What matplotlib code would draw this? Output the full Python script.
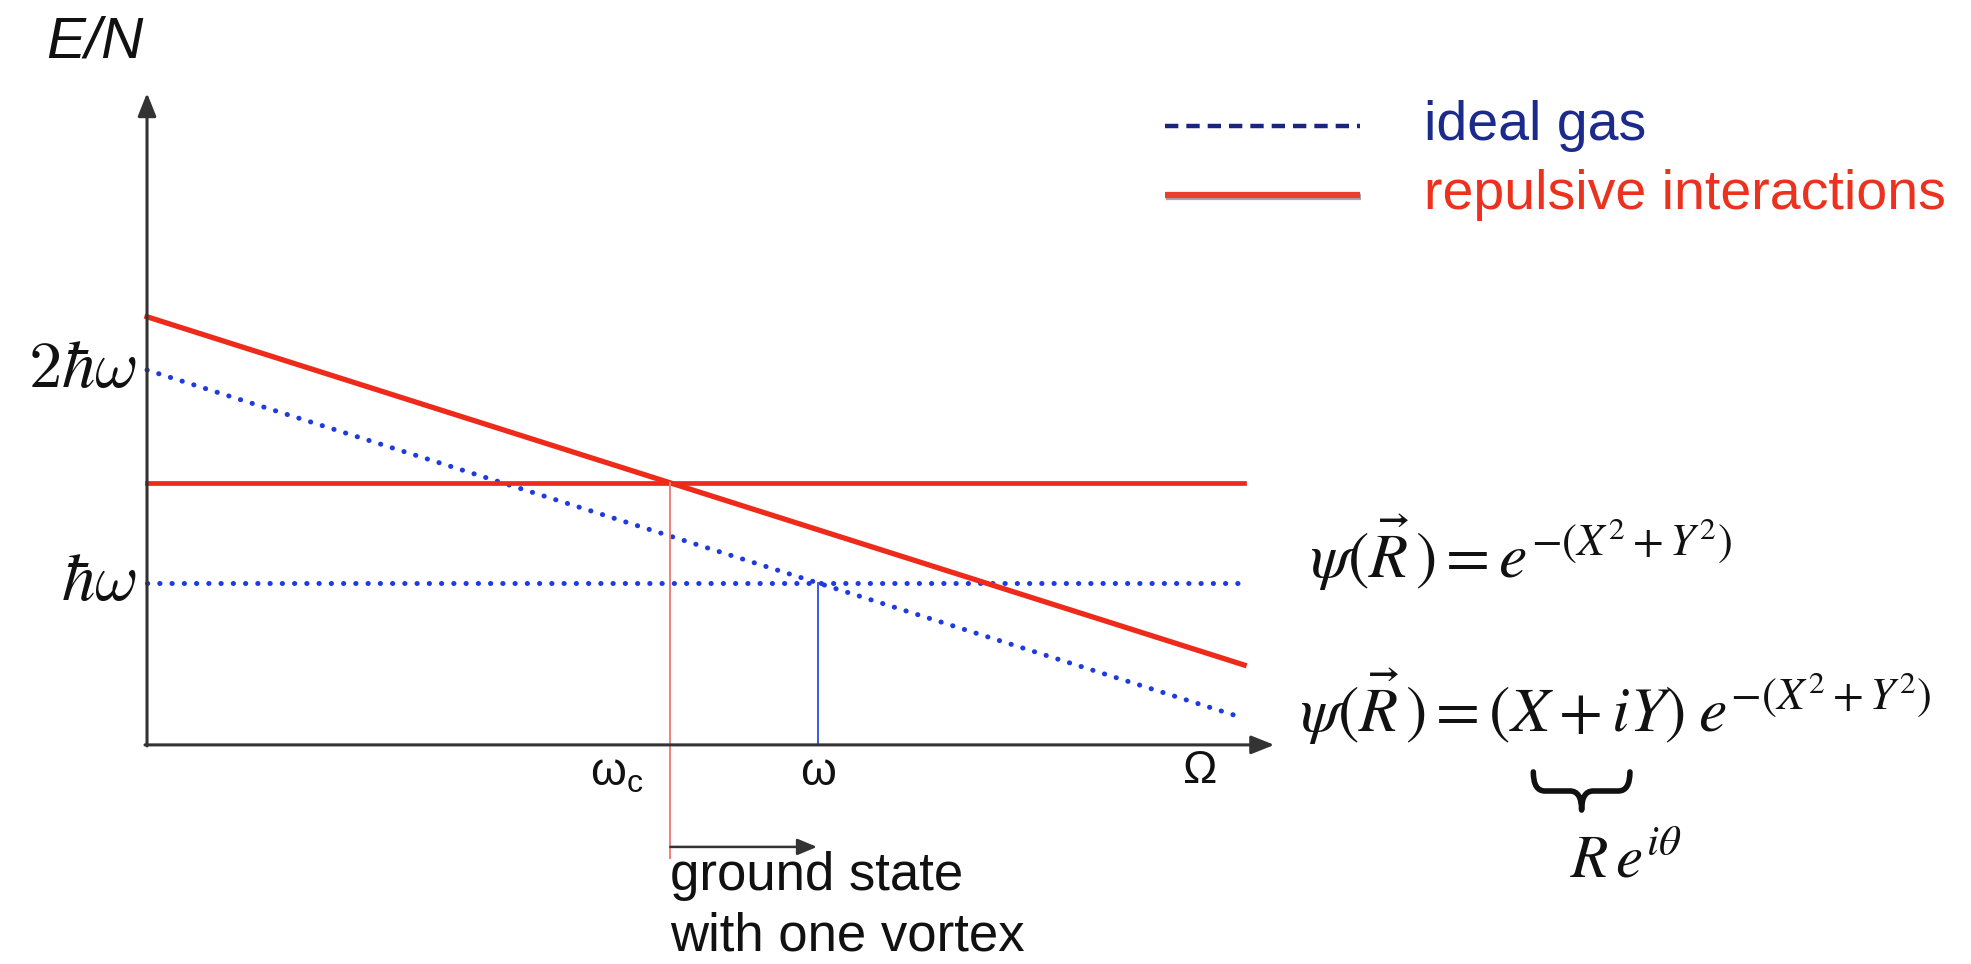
import numpy as np
import matplotlib
matplotlib.use("Agg")
import matplotlib.pyplot as plt
from matplotlib.path import Path
from matplotlib.patches import PathPatch
import matplotlib.patheffects as pe

plt.rcParams['font.family'] = ['Liberation Sans', 'DejaVu Sans']

# rotation frequency Omega (in units of the trap frequency omega)
omega = [0.0, 1.635]
# energy per particle E/N (in units of hbar*omega)
ideal_ground = [1.0, 1.0]
ideal_vortex = [2.0, 0.365]
repulsive_ground = [1.47, 1.47]
repulsive_vortex = [2.25, 0.615]

y_ticks = [2.0, 1.0]
y_tick_labels = [r'$2\hbar\omega$', r'$\hbar\omega$']

# crossing points
omega_trap = np.interp(ideal_ground[0], ideal_vortex[::-1], omega[::-1])
omega_c = np.interp(repulsive_ground[0], repulsive_vortex[::-1], omega[::-1])

axis_y = 0.24
axis_top = 3.30
axis_right = 1.68

red = '#ee2a1a'
blue = '#1f3be0'
dark = '#333333'

fig = plt.figure(figsize=(19.71, 9.64), dpi=100)
ax = fig.add_axes([0, 0, 1, 1])
ax.set_xlim(-0.2191, 2.7183)
ax.set_ylim(-0.7887, 3.7371)
ax.axis('off')

# axes with arrow heads
arrow = dict(arrowstyle='-|>,head_length=0.7,head_width=0.28', lw=2.2, color=dark,
             shrinkA=0, shrinkB=0, mutation_scale=20)
ax.annotate('', xy=(0, axis_top), xytext=(0, axis_y - 0.005), arrowprops=arrow)
ax.annotate('', xy=(axis_right, axis_y), xytext=(-0.003, axis_y), arrowprops=arrow)

# energy levels
dots = (0, (0.05, 2.4))
ax.plot(omega, ideal_ground, color=blue, lw=3.6, ls=dots, dash_capstyle='round')
ax.plot(omega, ideal_vortex, color=blue, lw=3.6, ls=dots, dash_capstyle='round')
ax.plot(omega, repulsive_ground, color=red, lw=3.4)
ax.plot(omega, repulsive_vortex, color=red, lw=3.8)

# vertical markers
ax.plot([omega_trap, omega_trap], [ideal_ground[0], axis_y], color='#3a5ae8', lw=1.4)
ax.plot([omega_c, omega_c], [repulsive_ground[0], -0.29], color='#f08078', lw=1.4)

# ground state arrow
ax.annotate('', xy=(0.9985, -0.239), xytext=(omega_c, -0.239),
            arrowprops=dict(arrowstyle='-|>,head_length=0.6,head_width=0.25', lw=1.8,
                            color=dark, shrinkA=0, shrinkB=0, mutation_scale=20))
ax.text(omega_c, -0.441, 'ground state', fontsize=38, color='#111111', va='baseline')
ax.text(omega_c, -0.723, 'with one vortex', fontsize=38, color='#111111', va='baseline')

# axis labels
ax.text(-0.1505, 3.465, 'E/N', fontsize=42, style='italic', color='#111111', va='baseline')
for yt, lab in zip(y_ticks, y_tick_labels):
    ax.text(-0.0149, yt, lab, fontsize=48, math_fontfamily='cm', ha='right', va='center',
            color='#111111')
ax.text(omega_c - 0.08, 0.108, r'ω$_\mathregular{c}$', fontsize=33, ha='center', va='center',
        color='#111111')
ax.text(omega_trap, 0.108, 'ω', fontsize=33, ha='center', va='center', color='#111111')
ax.text(1.569, 0.118, 'Ω', fontsize=33, ha='center', va='center', color='#111111')

# legend
ax.plot([1.517, 1.808], [3.146, 3.146], color='#1a2580', lw=3.2, ls=(0, (3, 1.8)))
ax.text(1.903, 3.080, 'ideal gas', fontsize=40, color='#1c2a8c', va='baseline')
ax.plot([1.517, 1.808], [2.822, 2.822], color='#e8402a', lw=4.5, solid_capstyle='butt',
        path_effects=[pe.SimpleLineShadow(offset=(0.5, -1.5), alpha=0.35), pe.Normal()])
ax.text(1.903, 2.756, 'repulsive interactions', fontsize=40, color='#ea321e', va='baseline')

# wave functions
ax.text(1.733, 1.023, r'$\psi(\vec{R}\,) = e^{-(X^2+Y^2)}$', fontsize=46,
        math_fontfamily='stix', va='baseline', color='#111111')
ax.text(1.718, 0.300, r'$\psi(\vec{R}\,) = (X + iY)\;e^{-(X^2+Y^2)}$',
        fontsize=46, math_fontfamily='stix', va='baseline', color='#111111')
ax.text(2.121, -0.380, r'$R\,e^{i\theta}$', fontsize=44, math_fontfamily='stix',
        va='baseline', color='#111111')

# underbrace below (X + iY)
x0, x1, yt, yb = 2.066, 2.210, 0.113, -0.066
xm, ym, q = (x0 + x1) / 2, (yt + yb) / 2, (x1 - x0) * 0.12
verts = [(x0, yt), (x0, ym), (x0 + q, ym), (xm - q, ym), (xm, ym), (xm, yb),
         (xm, ym), (xm + q, ym), (x1 - q, ym), (x1, ym), (x1, yt)]
codes = [Path.MOVETO, Path.CURVE3, Path.CURVE3, Path.LINETO, Path.CURVE3, Path.CURVE3,
         Path.CURVE3, Path.CURVE3, Path.LINETO, Path.CURVE3, Path.CURVE3]
ax.add_patch(PathPatch(Path(verts, codes), fill=False, lw=4, color='#111111',
                       capstyle='round', joinstyle='round'))

fig.savefig('out.png', dpi=100)
